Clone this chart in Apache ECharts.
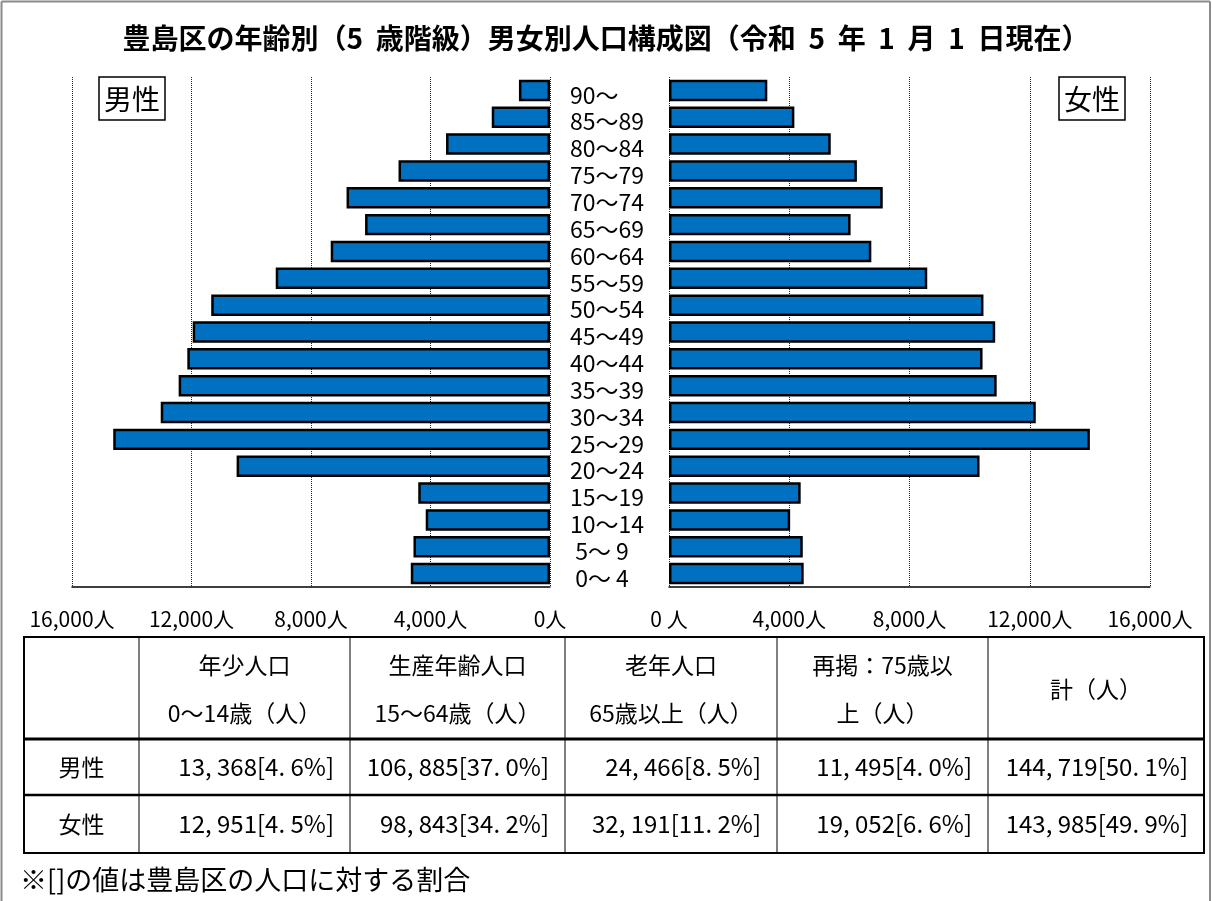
<!DOCTYPE html>
<html>
<head>
<meta charset="utf-8">
<script src="https://cdn.jsdelivr.net/npm/echarts@6/dist/echarts.min.js"></script>
<style>
html,body{margin:0;padding:0;background:#fff;}
#chart{width:1212px;height:901px;}
</style>
</head>
<body>
<div id="chart"></div>
<script>
// ---- data ----
const titleText = '豊島区の年齢別（5  歳階級）男女別人口構成図（令和  5  年  1  月  1  日現在）';
const ageLabels = ['90～','85～89','80～84','75～79','70～74','65～69','60～64','55～59','50～54','45～49','40～44','35～39','30～34','25～29','20～24','15～19','10～14',' 5～ 9',' 0～ 4'];
const maleValues = [1040,1950,3480,5070,6810,6190,7340,9180,11340,11960,12140,12430,13030,14620,10490,4410,4160,4570,4660];
const femaleValues = [3270,4170,5380,6250,7110,6040,6730,8590,10460,10850,10430,10900,12200,14000,10330,4380,4030,4450,4480];
const leftTickLabels = ['0人','4,000人','8,000人','12,000人','16,000人'];
const rightTickLabels = ['0 人','4,000人','8,000人','12,000人','16,000人'];
const maleLabel = '男性';
const femaleLabel = '女性';
const tableHeaders = [['年少人口','0～14歳（人）'],['生産年齢人口','15～64歳（人）'],['老年人口','65歳以上（人）'],['再掲：75歳以','上（人）'],['計（人）']];
const tableRowLabels = ['男性','女性'];
const maleTable = ['13, 368[4. 6%]','106, 885[37. 0%]','24, 466[8. 5%]','11, 495[4. 0%]','144, 719[50. 1%]'];
const femaleTable = ['12, 951[4. 5%]','98, 843[34. 2%]','32, 191[11. 2%]','19, 052[6. 6%]','143, 985[49. 9%]'];
const footnote = '※[]の値は豊島区の人口に対する割合';

// ---- layout ----
const FONT = '"Noto Sans CJK JP", "Noto Sans", sans-serif';
const colX = [24,139,350,565,777,988,1204];
const rowY = [637,739,795,853];

const chart = echarts.init(document.getElementById('chart'));

function txt(text, x, y, size, align, weight){
  return {type:'text', z:10, style:{text:text, x:x, y:y, fill:'#000', fontSize:size, fontFamily:FONT, fontWeight:weight||'normal', align:align||'center', verticalAlign:'middle', textAlign:align||'center', textVerticalAlign:'middle'}};
}
function line(x1,y1,x2,y2,w,color){
  return {type:'line', z:10, shape:{x1:x1,y1:y1,x2:x2,y2:y2}, style:{stroke:color||'#000', lineWidth:w}};
}

const graphics = [];
// outer frame
graphics.push(line(1.5,1.5,1210,1.5,2,'#8a8a8a'));
graphics.push(line(1.5,1.5,1.5,901,2,'#8a8a8a'));
graphics.push(line(1210,1.5,1210,901,2,'#8a8a8a'));
// title
graphics.push(txt(titleText,606,38,28,'center','bold'));
// gender boxes
graphics.push({type:'rect', z:10, shape:{x:99,y:77,width:66,height:43}, style:{fill:'#fff', stroke:'#000', lineWidth:1.5}});
graphics.push(txt(maleLabel,132,99,28,'center'));
graphics.push({type:'rect', z:10, shape:{x:1059,y:77,width:66,height:43}, style:{fill:'#fff', stroke:'#000', lineWidth:1.5}});
graphics.push(txt(femaleLabel,1092,99,28,'center'));
// table lines
graphics.push({type:'rect', z:10, shape:{x:colX[0],y:rowY[0],width:colX[6]-colX[0],height:rowY[3]-rowY[0]}, style:{fill:'none', stroke:'#000', lineWidth:2}});
for(let i=1;i<colX.length-1;i++) graphics.push(line(colX[i],rowY[0],colX[i],rowY[3],1));
graphics.push(line(colX[0],rowY[1],colX[6],rowY[1],3));
graphics.push(line(colX[0],rowY[2],colX[6],rowY[2],2.5));
// header texts
tableHeaders.forEach((h,i)=>{
  const cx = (colX[i+1]+colX[i+2])/2;
  if(h.length===2){
    graphics.push(txt(h[0],cx,665,23));
    graphics.push(txt(h[1],cx,713,23));
  } else {
    graphics.push(txt(h[0],cx,689,23));
  }
});
// row labels and values
const rowsData=[maleTable,femaleTable];
tableRowLabels.forEach((lab,r)=>{
  const cy=(rowY[r+1]+rowY[r+2])/2;
  graphics.push(txt(lab,(colX[0]+colX[1])/2,cy,23));
  rowsData[r].forEach((v,c)=>{
    graphics.push(txt(v,colX[c+2]-16,cy,24,'right'));
  });
});
graphics.push(txt(footnote,20,880,27,'left'));

const barStyle = {color:'#0070C0', borderColor:'#000', borderWidth:2.5};

const option = {
  backgroundColor:'#fff',
  animation:false,
  textStyle:{fontFamily:FONT},
  grid:[
    {left:72, width:478, top:77, height:510},
    {left:669, width:481, top:77, height:510}
  ],
  xAxis:[
    {gridIndex:0, type:'value', inverse:true, min:0, max:16000, interval:4000,
     axisLine:{show:true, onZero:false, lineStyle:{color:'#000', width:1.5}},
     axisTick:{show:false},
     axisLabel:{color:'#000', fontSize:21, fontFamily:FONT, margin:22,
       formatter:(v)=>leftTickLabels[Math.round(v/4000)]},
     splitLine:{show:true, lineStyle:{type:'dotted', color:'#222', width:1}}},
    {gridIndex:1, type:'value', min:0, max:16000, interval:4000,
     axisLine:{show:true, onZero:false, lineStyle:{color:'#000', width:1.5}},
     axisTick:{show:false},
     axisLabel:{color:'#000', fontSize:21, fontFamily:FONT, margin:22,
       formatter:(v)=>rightTickLabels[Math.round(v/4000)]},
     splitLine:{show:true, lineStyle:{type:'dotted', color:'#222', width:1}}}
  ],
  yAxis:[
    {gridIndex:0, type:'category', data:ageLabels, inverse:true, position:'right',
     axisLine:{show:false}, axisTick:{show:false},
     axisLabel:{interval:0, align:'left', margin:20, color:'#000', fontSize:23, fontFamily:FONT,
       formatter:(v)=>'{a|'+v+'}',
       rich:{a:{fontSize:23, fontFamily:FONT, color:'#000', padding:[9,0,0,0]}}}},
    {gridIndex:1, type:'category', data:ageLabels, inverse:true, show:false}
  ],
  series:[
    {name:maleLabel, type:'bar', xAxisIndex:0, yAxisIndex:0, data:maleValues, barWidth:'80%', itemStyle:barStyle},
    {name:femaleLabel, type:'bar', xAxisIndex:1, yAxisIndex:1, data:femaleValues, barWidth:'80%', itemStyle:barStyle}
  ],
  graphic:graphics
};
chart.setOption(option);
</script>
</body>
</html>
